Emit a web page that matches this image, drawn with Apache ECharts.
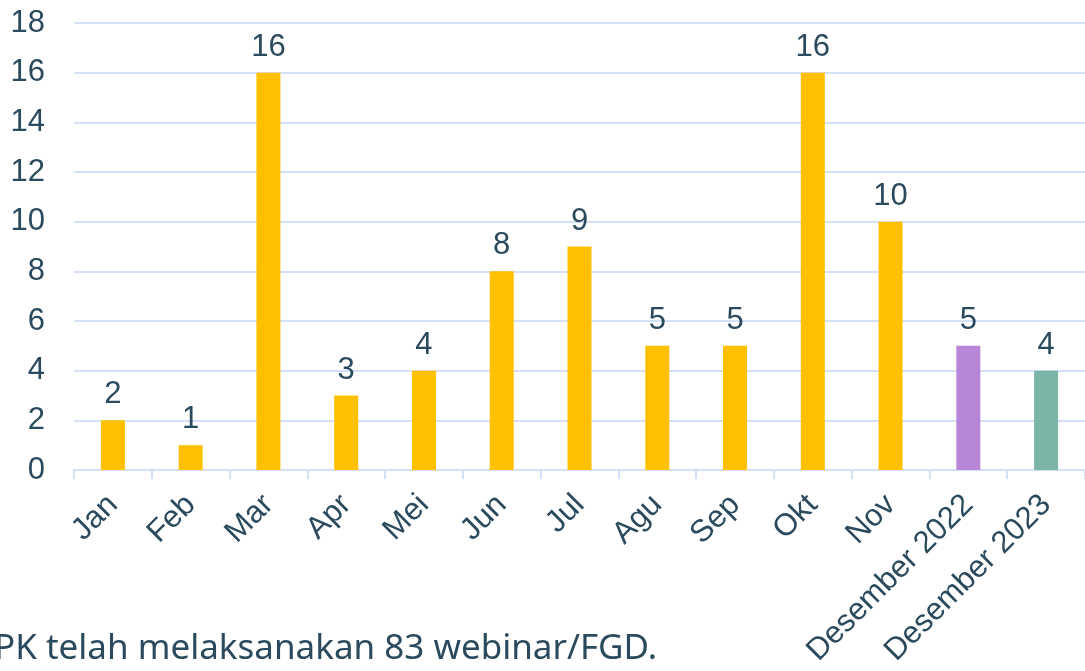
<!DOCTYPE html>
<html>
<head>
<meta charset="utf-8">
<script src="https://cdn.jsdelivr.net/npm/echarts@6/dist/echarts.min.js"></script>
<style>
  html, body { margin: 0; padding: 0; background: #fff; }
  #chart { width: 1085px; height: 671px; }
</style>
</head>
<body>
<div id="chart"></div>
<script>
// Webinar / FGD count per month
const months = ["Jan", "Feb", "Mar", "Apr", "Mei", "Jun", "Jul", "Agu", "Sep", "Okt", "Nov", "Desember 2022", "Desember 2023"];
const counts = [2, 1, 16, 3, 4, 8, 9, 5, 5, 16, 10, 5, 4];
const barColors = ["#FFC000", "#FFC000", "#FFC000", "#FFC000", "#FFC000", "#FFC000", "#FFC000", "#FFC000", "#FFC000", "#FFC000", "#FFC000", "#B886D6", "#7BB5A8"];
const yTicks = [0, 2, 4, 6, 8, 10, 12, 14, 16, 18];
const footnote = "PK telah melaksanakan 83 webinar/FGD.";

(function(){
  const textCol = "#2B4A5E";
  const lineCol = "#D3E0F7";
  const chart = echarts.init(document.getElementById("chart"));

  chart.setOption({
    animation: false,
    grid: { left: 74, right: 0, top: 23, bottom: 201, containLabel: false },
    xAxis: {
      type: "category",
      data: months,
      axisLine: { lineStyle: { color: lineCol, width: 2 } },
      axisTick: { show: true, length: 9, lineStyle: { color: lineCol, width: 2 } },
      axisLabel: { rotate: 45, margin: 30, interval: 0, fontSize: 31, color: textCol, fontFamily: "Liberation Sans" }
    },
    yAxis: {
      type: "value",
      min: yTicks[0],
      max: yTicks[yTicks.length - 1],
      interval: 2,
      axisLine: { show: false },
      axisTick: { show: false },
      splitLine: { lineStyle: { color: lineCol, width: 2 } },
      axisLabel: { margin: 29, fontSize: 31, color: textCol, fontFamily: "Liberation Sans" }
    },
    series: [{
      type: "bar",
      barWidth: 24,
      data: counts.map((v, i) => ({ value: v, itemStyle: { color: barColors[i] } })),
      label: { show: true, position: "top", distance: 10, fontSize: 31, color: textCol, fontFamily: "Liberation Sans" }
    }],
    graphic: [{
      type: "text",
      left: -6,
      top: 632,
      style: { text: footnote, fontSize: 35, fill: textCol, fontFamily: "Noto Sans" }
    }]
  });

  window.addEventListener("resize", ()=>chart.resize());
})();
</script>
</body>
</html>
